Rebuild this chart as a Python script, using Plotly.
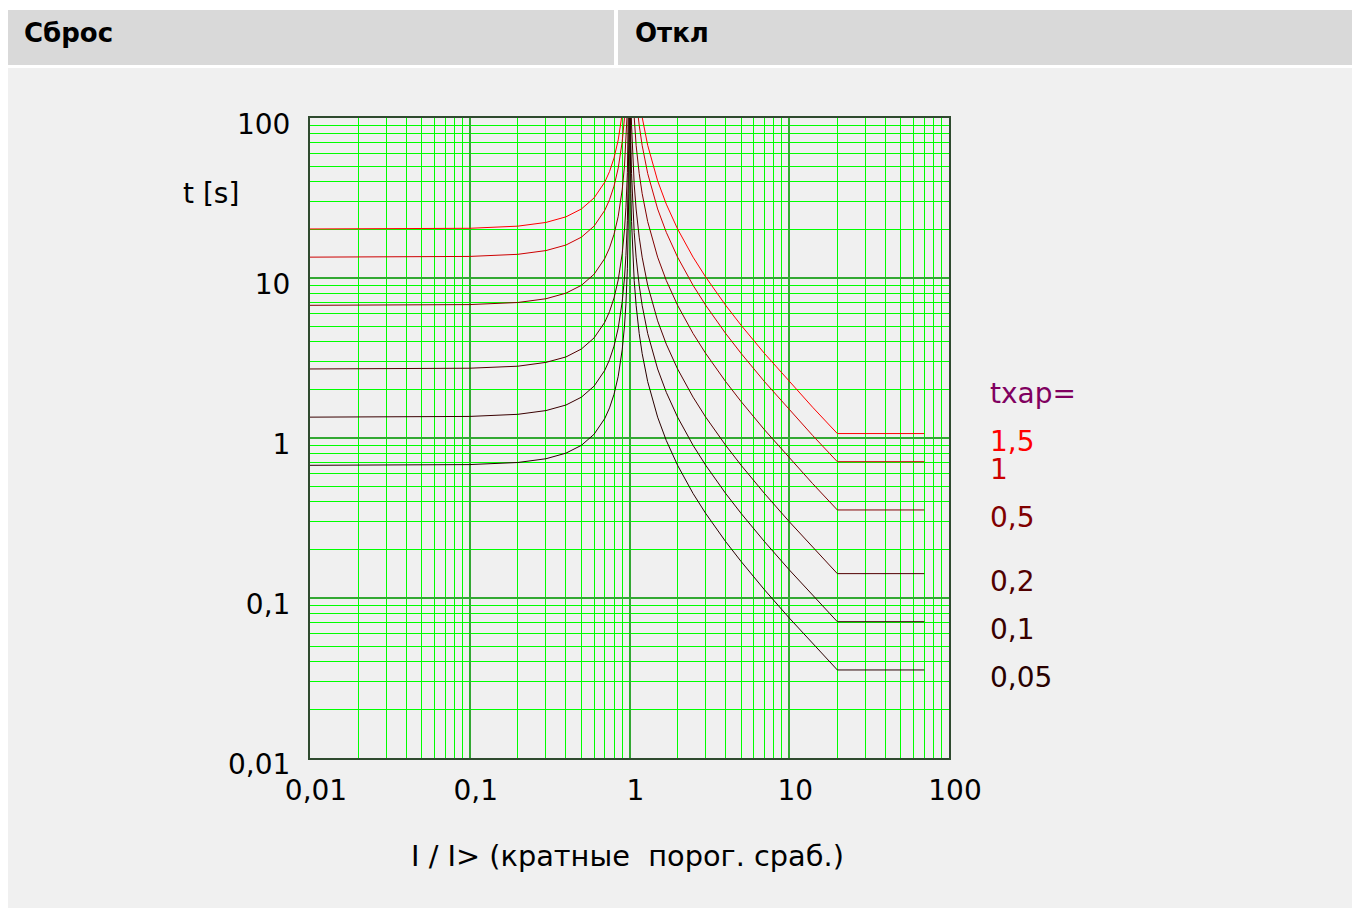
import math
import plotly.graph_objects as go

# ---- data ----
tchar_labels = ["1,5", "1", "0,5", "0,2", "0,1", "0,05"]
curve_colors = ["#ff0000", "#cc0000", "#800000", "#500000", "#380000", "#280000"]

# reset branch (I/I> < 1)
I_reset = [0.01, 0.1, 0.2, 0.3, 0.4, 0.5, 0.6, 0.7, 0.75, 0.8, 0.85, 0.9, 0.93,
           0.95, 0.97, 0.98, 0.99, 0.995, 0.998]
t_reset_15 = [20.25, 20.45, 21.09, 22.25, 24.11, 27.00, 31.64, 39.71, 46.29, 56.25, 72.97,
              106.6, 149.9, 207.7, 342.6, 511.4, 1017.6, 2030, 5068]
t_reset_1 = [13.50, 13.64, 14.06, 14.84, 16.07, 18.00, 21.09, 26.47, 30.86, 37.50, 48.65,
             71.05, 99.93, 138.5, 228.4, 340.9, 678.4, 1353, 3378]
t_reset_05 = [6.75, 6.82, 7.03, 7.42, 8.04, 9.00, 10.55, 13.24, 15.43, 18.75, 24.32,
              35.53, 49.96, 69.23, 114.2, 170.5, 339.2, 676.7, 1689]
t_reset_02 = [2.70, 2.73, 2.81, 2.97, 3.21, 3.60, 4.22, 5.29, 6.17, 7.50, 9.73,
              14.21, 19.99, 27.69, 45.68, 68.18, 135.7, 270.7, 675.7]
t_reset_01 = [1.35, 1.364, 1.406, 1.484, 1.607, 1.80, 2.109, 2.647, 3.086, 3.75, 4.865,
              7.105, 9.993, 13.85, 22.84, 34.09, 67.84, 135.3, 337.8]
t_reset_005 = [0.675, 0.682, 0.703, 0.742, 0.804, 0.90, 1.055, 1.324, 1.543, 1.875, 2.432,
               3.553, 4.996, 6.923, 11.42, 17.04, 33.92, 67.67, 168.9]

# trip branch (I/I> > 1)
I_trip = [1.005, 1.01, 1.02, 1.03, 1.05, 1.07, 1.1, 1.15, 1.2, 1.3, 1.5, 1.7, 2, 2.5,
          3, 4, 5, 7, 10, 14, 20, 70]
t_trip_15 = [4050, 2025, 1012, 675, 405, 289.3, 202.5, 135, 101.3, 67.5, 40.5, 28.93,
             20.25, 13.5, 10.13, 6.75, 5.06, 3.375, 2.25, 1.558, 1.066, 1.066]
t_trip_1 = [2700, 1350, 675, 450, 270, 192.9, 135, 90, 67.5, 45, 27, 19.29,
            13.5, 9.0, 6.75, 4.5, 3.375, 2.25, 1.5, 1.038, 0.711, 0.711]
t_trip_05 = [1350, 675, 337.5, 225, 135, 96.4, 67.5, 45, 33.75, 22.5, 13.5, 9.64,
             6.75, 4.5, 3.375, 2.25, 1.688, 1.125, 0.75, 0.519, 0.355, 0.355]
t_trip_02 = [540, 270, 135, 90, 54, 38.57, 27, 18, 13.5, 9.0, 5.4, 3.857,
             2.7, 1.8, 1.35, 0.9, 0.675, 0.45, 0.3, 0.2077, 0.142, 0.142]
t_trip_01 = [270, 135, 67.5, 45, 27, 19.29, 13.5, 9.0, 6.75, 4.5, 2.7, 1.929,
             1.35, 0.9, 0.675, 0.45, 0.3375, 0.225, 0.15, 0.1038, 0.0711, 0.0711]
t_trip_005 = [135, 67.5, 33.75, 22.5, 13.5, 9.64, 6.75, 4.5, 3.375, 2.25, 1.35, 0.964,
              0.675, 0.45, 0.3375, 0.225, 0.169, 0.1125, 0.075, 0.0519, 0.0355, 0.0355]

resets = [t_reset_15, t_reset_1, t_reset_05, t_reset_02, t_reset_01, t_reset_005]
trips = [t_trip_15, t_trip_1, t_trip_05, t_trip_02, t_trip_01, t_trip_005]

tick_vals = [0.01, 0.1, 1, 10, 100]
tick_text = ["0,01", "0,1", "1", "10", "100"]

header_left = "Сброс"
header_right = "Откл"
y_title = "t [s]"
x_title = "I / I> (кратные\u00a0 порог. сраб.)"
legend_title = "tхар="

FONT = "DejaVu Sans"
W, H = 1352, 908
L, R, T, B = 310, 949, 118, 758          # plot area in pixels
PW, PH = R - L, B - T


def px(x):  # page pixel -> paper x
    return (x - L) / PW


def py(y):  # page pixel -> paper y
    return (B - y) / PH


minor_vals = [k * 10.0 ** e for e in range(-2, 2) for k in range(2, 10)]

fig = go.Figure()
for lab, col, tr, tt in zip(tchar_labels, curve_colors, resets, trips):
    fig.add_trace(go.Scatter(x=I_reset, y=tr, mode="lines",
                             line=dict(color=col, width=1), name=lab,
                             showlegend=False, hoverinfo="skip"))
    fig.add_trace(go.Scatter(x=I_trip, y=tt, mode="lines",
                             line=dict(color=col, width=1), name=lab,
                             showlegend=False, hoverinfo="skip"))

shapes = [
    dict(type="rect", xref="paper", yref="paper", layer="below",
         x0=px(8), x1=px(614), y0=py(65), y1=py(10),
         fillcolor="#d9d9d9", line=dict(width=0)),
    dict(type="rect", xref="paper", yref="paper", layer="below",
         x0=px(618), x1=px(1352), y0=py(65), y1=py(10),
         fillcolor="#d9d9d9", line=dict(width=0)),
    dict(type="rect", xref="paper", yref="paper", layer="below",
         x0=px(8), x1=px(1352), y0=py(908), y1=py(68),
         fillcolor="#f0f0f0", line=dict(width=0)),
]

annotations = [
    dict(text="<b>" + header_left + "</b>", xref="paper", yref="paper",
         x=px(22), y=py(33), xanchor="left", yanchor="middle",
         showarrow=False, font=dict(family=FONT, size=26, color="#000000")),
    dict(text="<b>" + header_right + "</b>", xref="paper", yref="paper",
         x=px(633), y=py(33), xanchor="left", yanchor="middle",
         showarrow=False, font=dict(family=FONT, size=26, color="#000000")),
    dict(text=y_title, xref="paper", yref="paper", x=px(211), y=py(193),
         xanchor="center", yanchor="middle", showarrow=False,
         font=dict(family=FONT, size=28, color="#000000")),
    dict(text=x_title, xref="paper", yref="paper", x=px(627), y=py(856),
         xanchor="center", yanchor="middle", showarrow=False,
         font=dict(family=FONT, size=28.8, color="#000000")),
    dict(text=legend_title, xref="paper", yref="paper", x=px(988), y=py(393),
         xanchor="left", yanchor="middle", showarrow=False,
         font=dict(family=FONT, size=28, color="#800060")),
]
for lab, col, tt in zip(tchar_labels, curve_colors, trips):
    annotations.append(dict(text=lab, xref="paper", yref="y", x=px(988),
                            y=math.log10(tt[-1]), yshift=-8,
                            xanchor="left", yanchor="middle", showarrow=False,
                            font=dict(family=FONT, size=28, color=col)))

axis_common = dict(
    type="log", range=[-2, 2], tickmode="array", tickvals=tick_vals, ticktext=tick_text,
    showgrid=True, gridcolor="#33a833", gridwidth=1.5,
    showline=True, linecolor="#2f4a2f", linewidth=2, mirror=True,
    ticks="", zeroline=False,
    tickfont=dict(family=FONT, size=28, color="#000000"),
    minor=dict(tickmode="array", tickvals=minor_vals, showgrid=True,
               gridcolor="#00ff00", gridwidth=1, ticks=""),
)

fig.update_layout(
    width=W, height=H,
    margin=dict(l=L, r=W - R, t=T, b=H - B, pad=0),
    paper_bgcolor="#ffffff", plot_bgcolor="#f0f0f0",
    shapes=shapes, annotations=annotations,
    showlegend=False,
    xaxis=dict(axis_common, ticklabelstandoff=6, ticklabelshift=6),
    yaxis=dict(axis_common, ticklabelstandoff=12, ticklabelshift=6),
    font=dict(family=FONT),
)

fig.write_html("out.html", config={"displayModeBar": False},
               post_script="document.body.style.margin='0';document.body.style.overflow='hidden';")
